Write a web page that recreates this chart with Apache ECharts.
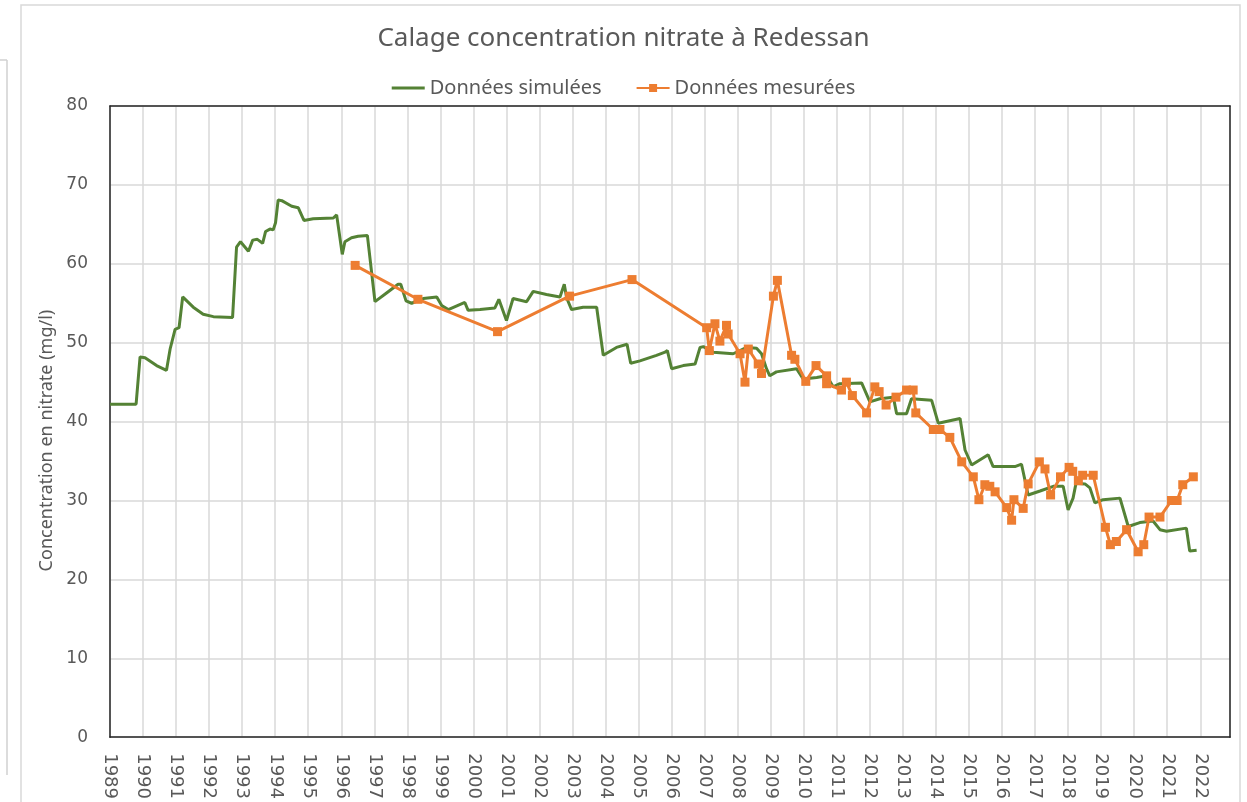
<!DOCTYPE html>
<html>
<head>
<meta charset="utf-8">
<script src="https://cdn.jsdelivr.net/npm/echarts@6/dist/echarts.min.js"></script>
<style>
  html, body { margin: 0; padding: 0; background: #fff; }
  #chart { width: 1247px; height: 802px; }
</style>
</head>
<body>
<div id="chart"></div>
<script>
// données simulées (année décimale, mg/l)
var simYears = [1989.0, 1989.79, 1989.91, 1990.06, 1990.41, 1990.71, 1990.82, 1990.97, 1991.09, 1991.2,
  1991.52, 1991.82, 1992.13, 1992.71, 1992.83, 1992.95, 1993.19, 1993.32, 1993.46, 1993.62,
  1993.71, 1993.84, 1993.94, 1994.01, 1994.09, 1994.2, 1994.5, 1994.7, 1994.87, 1995.15,
  1995.76, 1995.86, 1996.03, 1996.11, 1996.31, 1996.51, 1996.79, 1997.02, 1997.37, 1997.72,
  1997.8, 1997.96, 1998.13, 1998.48, 1998.89, 1999.04, 1999.24, 1999.74, 1999.84, 2000.2,
  2000.65, 2000.77, 2001.0, 2001.2, 2001.61, 2001.81, 2002.21, 2002.62, 2002.75, 2002.82,
  2002.97, 2003.32, 2003.73, 2003.93, 2004.33, 2004.65, 2004.76, 2005.04, 2005.54, 2005.8,
  2005.87, 2006.0, 2006.35, 2006.71, 2006.86, 2006.96, 2007.26, 2007.86, 2008.07, 2008.27,
  2008.57, 2008.72, 2008.87, 2008.97, 2009.17, 2009.78, 2009.98, 2010.39, 2010.69, 2010.89,
  2011.09, 2011.75, 2012.0, 2012.3, 2012.71, 2012.81, 2013.11, 2013.26, 2013.31, 2013.87,
  2014.07, 2014.73, 2014.88, 2015.08, 2015.58, 2015.73, 2016.04, 2016.39, 2016.59, 2016.79,
  2017.15, 2017.55, 2017.85, 2018.0, 2018.15, 2018.24, 2018.51, 2018.66, 2018.81, 2019.06,
  2019.57, 2019.82, 2020.17, 2020.57, 2020.78, 2020.98, 2021.58, 2021.68, 2021.89];
var simValues = [42.2, 42.2, 48.2, 48.1, 47.1, 46.5, 49.2, 51.7, 51.9, 55.8,
  54.5, 53.6, 53.3, 53.2, 62.1, 62.8, 61.6, 63.0, 63.1, 62.6,
  64.1, 64.4, 64.3, 65.2, 68.1, 68.0, 67.3, 67.1, 65.5, 65.7,
  65.8, 66.2, 61.2, 62.8, 63.3, 63.5, 63.6, 55.2, 56.3, 57.4,
  57.4, 55.3, 55.0, 55.6, 55.8, 54.7, 54.2, 55.1, 54.1, 54.2,
  54.4, 55.5, 52.8, 55.6, 55.2, 56.5, 56.1, 55.8, 57.4, 55.7,
  54.2, 54.5, 54.5, 48.4, 49.4, 49.8, 47.4, 47.7, 48.4, 48.8,
  49.0, 46.7, 47.1, 47.3, 49.4, 49.5, 48.8, 48.6, 49.0, 49.4,
  49.3, 48.6, 46.7, 45.8, 46.3, 46.7, 45.4, 45.6, 45.8, 44.4,
  44.8, 44.9, 42.5, 42.9, 43.1, 41.0, 41.0, 42.9, 43.1, 42.7,
  39.8, 40.4, 36.4, 34.5, 35.8, 34.3, 34.3, 34.3, 34.6, 30.7,
  31.2, 31.8, 31.8, 28.8, 30.3, 32.2, 32.1, 31.6, 29.7, 30.1,
  30.3, 26.7, 27.2, 27.4, 26.3, 26.1, 26.5, 23.6, 23.7];

// données mesurées
var mesYears = [1996.42, 1998.32, 2000.73, 2002.91, 2004.8, 2007.06, 2007.14, 2007.31, 2007.46, 2007.66,
  2007.71, 2008.07, 2008.22, 2008.32, 2008.62, 2008.72, 2009.08, 2009.2, 2009.63, 2009.73,
  2010.06, 2010.37, 2010.69, 2010.69, 2011.14, 2011.29, 2011.47, 2011.9, 2012.15, 2012.28,
  2012.49, 2012.79, 2013.11, 2013.31, 2013.39, 2013.92, 2014.12, 2014.42, 2014.78, 2015.13,
  2015.3, 2015.48, 2015.63, 2015.79, 2016.14, 2016.29, 2016.36, 2016.64, 2016.79, 2017.13,
  2017.3, 2017.47, 2017.77, 2018.03, 2018.14, 2018.31, 2018.44, 2018.76, 2019.13, 2019.28,
  2019.46, 2019.77, 2020.12, 2020.29, 2020.45, 2020.78, 2021.13, 2021.3, 2021.47, 2021.79];
var mesValues = [59.8, 55.5, 51.4, 55.9, 58.0, 51.9, 49.0, 52.4, 50.2, 52.2,
  51.1, 48.6, 45.0, 49.2, 47.3, 46.1, 55.9, 57.9, 48.4, 47.9,
  45.1, 47.1, 45.8, 44.8, 44.0, 45.0, 43.3, 41.1, 44.4, 43.8,
  42.1, 43.1, 44.0, 44.0, 41.1, 39.0, 39.0, 38.0, 34.9, 33.0,
  30.1, 32.0, 31.8, 31.1, 29.1, 27.5, 30.1, 29.0, 32.1, 34.9,
  34.0, 30.7, 33.0, 34.2, 33.7, 32.5, 33.2, 33.2, 26.6, 24.4,
  24.8, 26.3, 23.5, 24.4, 27.9, 27.9, 30.0, 30.0, 32.0, 33.0];

var yearMin = 1989, yearMax = 2022.9;

function zip(xs, ys) {
  var out = [];
  for (var i = 0; i < xs.length; i++) out.push([xs[i], ys[i]]);
  return out;
}

var myChart = echarts.init(document.getElementById('chart'));
var txt = '#595959';
var frame = { show: true, onZero: false, lineStyle: { color: '#262626', width: 1.5 } };
var option = {
  backgroundColor: '#fff',
  animation: false,
  title: {
    text: 'Calage concentration nitrate à Redessan',
    left: 'center',
    top: 21,
    textStyle: { color: txt, fontSize: 26, fontWeight: 'normal', fontFamily: "'Noto Sans', sans-serif" }
  },
  legend: {
    top: 73,
    left: 'center',
    itemWidth: 33,
    itemHeight: 10,
    itemGap: 34,
    textStyle: { color: txt, fontSize: 20, fontFamily: "'Noto Sans', sans-serif" },
    data: [
      { name: 'Données simulées', icon: 'path://M0,0M0,3.5H33V6.5H0ZM33,10' },
      'Données mesurées'
    ]
  },
  grid: { left: 110, right: 17, top: 106, bottom: 61, containLabel: false },
  xAxis: [{
    type: 'value',
    min: yearMin,
    max: yearMax,
    interval: 1,
    axisLine: frame,
    axisTick: { show: false },
    splitLine: { show: true, lineStyle: { color: '#d9d9d9', width: 1.5 } },
    axisLabel: {
      rotate: -90,
      margin: 16,
      color: txt,
      fontSize: 18,
      fontFamily: "'DejaVu Sans', sans-serif",
      showMaxLabel: false,
      formatter: function (v) { return Math.abs(v - Math.round(v)) < 1e-6 ? String(Math.round(v)) : ''; }
    }
  }, {
    type: 'value', position: 'top', min: yearMin, max: yearMax,
    axisLine: frame, axisTick: { show: false }, axisLabel: { show: false }, splitLine: { show: false }
  }],
  yAxis: [{
    type: 'value',
    min: 0, max: 80, interval: 10,
    name: 'Concentration en nitrate (mg/l)',
    nameLocation: 'middle',
    nameGap: 54,
    nameTextStyle: { color: txt, fontSize: 18, fontFamily: "'Noto Sans', sans-serif", padding: [0, 38, 0, 0] },
    axisLine: frame,
    axisTick: { show: false },
    splitLine: { lineStyle: { color: '#d9d9d9', width: 1.5 } },
    axisLabel: { color: txt, fontSize: 17, margin: 22, fontFamily: "'DejaVu Sans', sans-serif" }
  }, {
    type: 'value', position: 'right', min: 0, max: 80,
    axisLine: frame, axisTick: { show: false }, axisLabel: { show: false }, splitLine: { show: false }
  }],
  series: [
    {
      name: 'Données simulées',
      type: 'line',
      symbol: 'none',
      data: zip(simYears, simValues),
      lineStyle: { color: '#548235', width: 3 },
      itemStyle: { color: '#548235' },
      z: 2
    },
    {
      name: 'Données mesurées',
      type: 'line',
      symbol: 'rect',
      symbolSize: 9,
      data: zip(mesYears, mesValues),
      lineStyle: { color: '#ed7d31', width: 3 },
      itemStyle: { color: '#ed7d31' },
      z: 3
    }
  ],
  graphic: [
    { type: 'rect', shape: { x: 21, y: 5, width: 1219, height: 810 }, style: { fill: 'none', stroke: '#d9d9d9', lineWidth: 1.5 } },
    { type: 'line', shape: { x1: 7, y1: 60, x2: 7, y2: 775 }, style: { stroke: '#d0d0d0', lineWidth: 1.5 } },
    { type: 'line', shape: { x1: 0, y1: 60, x2: 7, y2: 60 }, style: { stroke: '#d0d0d0', lineWidth: 1.5 } }
  ]
};
myChart.setOption(option);
</script>
</body>
</html>
